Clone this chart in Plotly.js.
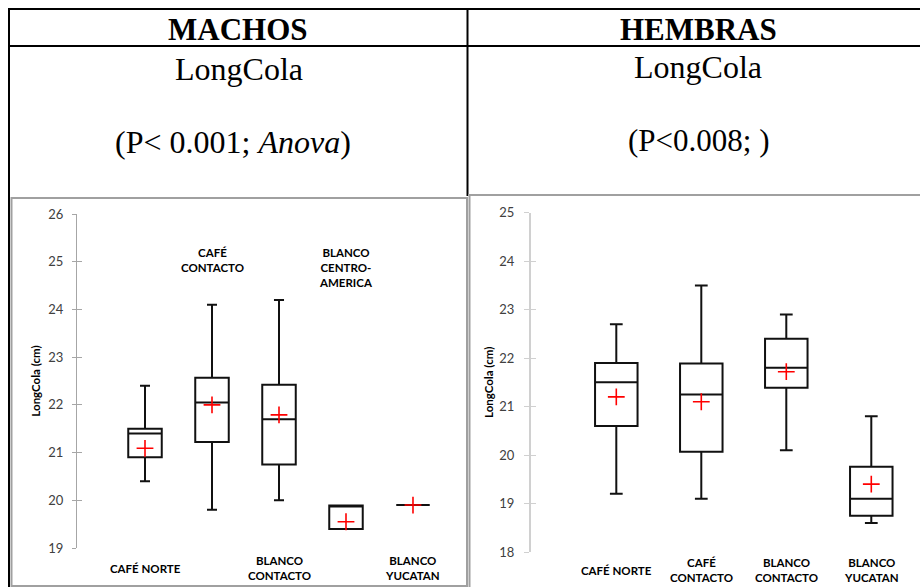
<!DOCTYPE html>
<html>
<head>
<meta charset="utf-8">
<script src="https://cdn.plot.ly/plotly-3.0.1.min.js"></script>
<style>html,body{margin:0;padding:0;background:#fff;}#chart{width:920px;height:587px;}</style>
</head>
<body>
<div id="chart"></div>
<script>
// ---- MACHOS data ----
const machosCats = ['CAFÉ NORTE', 'CAFÉ<br>CONTACTO', 'BLANCO<br>CONTACTO', 'BLANCO<br>CENTRO-<br>AMERICA', 'BLANCO<br>YUCATAN'];
const machosLow  = [20.4, 19.8, 20.0, 19.4, 19.9];
const machosQ1   = [20.9, 21.22, 20.75, 19.4, 19.9];
const machosMed  = [21.4, 22.05, 21.7, 19.89, 19.9];
const machosQ3   = [21.5, 22.57, 22.42, 19.89, 19.9];
const machosHigh = [22.4, 24.1, 24.2, 19.89, 19.9];
const machosMean = [21.09, 22.0, 21.79, 19.55, 19.9];

// ---- HEMBRAS data ----
const hembrasCats = ['CAFÉ NORTE', 'CAFÉ<br>CONTACTO', 'BLANCO<br>CONTACTO', 'BLANCO<br>YUCATAN'];
const hembrasLow  = [19.2, 19.1, 20.1, 18.6];
const hembrasQ1   = [20.6, 20.07, 21.39, 18.75];
const hembrasMed  = [21.5, 21.25, 21.8, 19.1];
const hembrasQ3   = [21.9, 21.89, 22.4, 19.76];
const hembrasHigh = [22.7, 23.5, 22.9, 20.8];
const hembrasMean = [21.2, 21.1, 21.72, 19.4];

// ---- text ----
const headerLeft = 'MACHOS';
const headerRight = 'HEMBRAS';
const varName = 'LongCola';
const statLeft = '(P< 0.001; <i>Anova</i>)';
const statRight = '(P<0.008; )';
const yTitle = 'LongCola (cm)';

const idxM = machosCats.map((_, i) => i);
const idxH = hembrasCats.map((_, i) => i);

const boxStyle = {
  type: 'box', boxpoints: false, fillcolor: 'rgba(0,0,0,0)',
  line: {color: '#111', width: 2}, whiskerwidth: 0.3, width: 0.5,
  hoverinfo: 'skip', showlegend: false
};
const meanStyle = {
  type: 'scatter', mode: 'markers', hoverinfo: 'skip', showlegend: false,
  marker: {symbol: 'cross-thin-open', size: 12, color: 'red', line: {color: 'red', width: 1.6}}
};

const traces = [
  Object.assign({}, boxStyle, {x: idxM, q1: machosQ1, median: machosMed, q3: machosQ3,
    lowerfence: machosLow, upperfence: machosHigh, xaxis: 'x', yaxis: 'y'}),
  Object.assign({}, meanStyle, {x: idxM, y: machosMean, xaxis: 'x', yaxis: 'y3'}),
  Object.assign({}, boxStyle, {x: idxH, q1: hembrasQ1, median: hembrasMed, q3: hembrasQ3,
    lowerfence: hembrasLow, upperfence: hembrasHigh, xaxis: 'x2', yaxis: 'y2'}),
  Object.assign({}, meanStyle, {x: idxH, y: hembrasMean, xaxis: 'x2', yaxis: 'y4'})
];

const W = 920, H = 587;
const px = v => v / W;
const py = v => 1 - v / H;

const tickFont = {family: 'Lato, Carlito, sans-serif', size: 13, color: '#404040'};
const titleFont = {family: 'Lato, Carlito, sans-serif', size: 11.5, color: '#000'};
const xBase = {showline: false, showticklabels: false, ticks: '', showgrid: false, zeroline: false, fixedrange: true};

const layout = {
  width: W, height: H,
  margin: {l: 0, r: 0, t: 0, b: 0},
  paper_bgcolor: '#fff', plot_bgcolor: 'rgba(0,0,0,0)',
  showlegend: false,
  xaxis: Object.assign({}, xBase, {domain: [px(77), px(455)], range: [-1.015, 4.627], anchor: 'y'}),
  yaxis: {domain: [py(548), py(214)], range: [19, 26], dtick: 1, anchor: 'x',
    showline: true, linecolor: '#a6a6a6', linewidth: 1, ticks: 'outside', ticklen: 4,
    tickcolor: '#a6a6a6', tickwidth: 1, showgrid: false, zeroline: false, tickfont: tickFont,
    ticklabelstandoff: 6,
    title: {text: '<b>' + yTitle + '</b>', font: titleFont, standoff: 5}},
  yaxis3: {overlaying: 'y', range: [19, 26], dtick: 1, anchor: 'x', side: 'left',
    showline: false, ticks: 'inside', ticklen: 5, tickcolor: '#a6a6a6', tickwidth: 1,
    showticklabels: false, showgrid: false, zeroline: false},
  xaxis2: Object.assign({}, xBase, {domain: [px(531), px(916)], range: [-1.0035, 3.526], anchor: 'y2'}),
  yaxis2: {domain: [py(552), py(212.7)], range: [18, 25], dtick: 1, anchor: 'x2',
    showline: true, linecolor: '#d0d0d0', linewidth: 2, ticks: 'outside', ticklen: 5,
    tickcolor: '#d0d0d0', tickwidth: 1, showgrid: false, zeroline: false, tickfont: tickFont,
    ticklabelstandoff: 7,
    title: {text: '<b>' + yTitle + '</b>', font: titleFont, standoff: 3}},
  yaxis4: {overlaying: 'y2', range: [18, 25], dtick: 1, anchor: 'x2', side: 'left',
    showline: false, ticks: 'inside', ticklen: 5, tickcolor: '#d0d0d0', tickwidth: 1,
    showticklabels: false, showgrid: false, zeroline: false},
  shapes: [
    // table frame
    {type: 'line', xref: 'paper', yref: 'paper', x0: px(8), x1: 1, y0: py(9), y1: py(9), line: {color: '#000', width: 2}},
    {type: 'line', xref: 'paper', yref: 'paper', x0: px(8), x1: 1, y0: py(46), y1: py(46), line: {color: '#000', width: 2}},
    {type: 'line', xref: 'paper', yref: 'paper', x0: px(9), x1: px(9), y0: py(8), y1: 0, line: {color: '#000', width: 2}},
    {type: 'line', xref: 'paper', yref: 'paper', x0: px(467.5), x1: px(467.5), y0: py(8), y1: py(196), line: {color: '#000', width: 2}},
    // chart frames
    {type: 'rect', xref: 'paper', yref: 'paper', x0: px(11.5), x1: px(467), y0: py(586), y1: py(198), line: {color: '#a0a0a0', width: 2}},
    {type: 'line', xref: 'paper', yref: 'paper', x0: px(468), x1: 1, y0: py(195), y1: py(195), line: {color: '#a0a0a0', width: 2}},
    {type: 'line', xref: 'paper', yref: 'paper', x0: px(469.5), x1: px(469.5), y0: py(195), y1: 0, line: {color: '#a0a0a0', width: 2}}
  ],
  annotations: []
};

const serif = 'Liberation Serif, Times New Roman, serif';
const hdr = (text, x, y, size, bold) => ({
  xref: 'paper', yref: 'paper', x: px(x), y: py(y), xanchor: 'center', yanchor: 'middle',
  text: bold ? '<b>' + text + '</b>' : text, showarrow: false,
  font: {family: serif, size: size, color: '#000'}
});
layout.annotations.push(hdr(headerLeft, 238.5, 29, 31, true));
layout.annotations.push(hdr(headerRight, 698, 29, 31, true));
layout.annotations.push(hdr(varName, 239, 69, 32, false));
layout.annotations.push(hdr(varName, 698, 67, 32, false));
layout.annotations.push(hdr(statLeft, 233, 142, 32, false));
layout.annotations.push(hdr(statRight, 698, 141, 31, false));

const catFont = {family: 'Lato, Carlito, sans-serif', size: 11.5, color: '#000'};
machosCats.forEach((c, i) => {
  const top = i % 2 === 1;
  layout.annotations.push({
    xref: 'x', yref: 'paper', x: i, y: top ? py(244) : py(568),
    xanchor: 'center', yanchor: top ? 'top' : 'middle',
    text: '<b>' + c + '</b>', showarrow: false, font: catFont
  });
});
hembrasCats.forEach((c, i) => {
  layout.annotations.push({
    xref: 'x2', yref: 'paper', x: i, y: py(570),
    xanchor: 'center', yanchor: 'middle',
    text: '<b>' + c + '</b>', showarrow: false, font: catFont
  });
});

Plotly.newPlot('chart', traces, layout, {staticPlot: true, displayModeBar: false});
</script>
</body>
</html>
